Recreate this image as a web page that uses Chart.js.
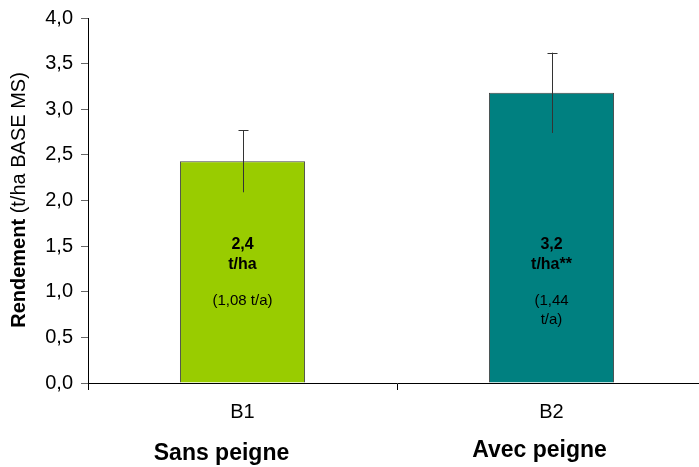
<!DOCTYPE html>
<html>
<head>
<meta charset="utf-8">
<script src="https://cdn.jsdelivr.net/npm/chart.js@4.4.1/dist/chart.umd.min.js"></script>
<style>
  html, body { margin: 0; padding: 0; background: #fff; overflow: hidden; }
  #wrap { width: 699px; height: 467px; overflow: hidden; position: relative; }
  #box { width: 706px; height: 467px; position: absolute; left: 0; top: 0; }
</style>
</head>
<body>
<div id="wrap"><div id="box"><canvas id="c"></canvas></div></div>
<script>
// Yield per treatment (t/ha dry matter) with standard deviation
const categories = ['B1', 'B2'];
const groupNames = ['Sans peigne', 'Avec peigne'];
const yieldValues = [2.43, 3.18];
const yieldErrors = [0.34, 0.44];
const unitSuffix = ['t/ha', 't/ha**'];
const perAcreLines = [['(1,08 t/a)'], ['(1,44', 't/a)']];
const barColors = ['#99CC00', '#008080'];
const yTicks = [0, 0.5, 1, 1.5, 2, 2.5, 3, 3.5, 4];

const FONT = '"Liberation Sans", Arial, sans-serif';
const fmt = v => v.toFixed(1).replace('.', ',');

// Error bars: line through the bar top with a cap on the upper end
const errorBars = {
  id: 'errorBars',
  afterDatasetsDraw(chart) {
    const { ctx, scales: { y } } = chart;
    const meta = chart.getDatasetMeta(0);
    ctx.save();
    ctx.strokeStyle = '#333';
    ctx.lineWidth = 1;
    meta.data.forEach((bar, i) => {
      const x = Math.round(bar.x) + 0.5;
      const top = y.getPixelForValue(yieldValues[i] + yieldErrors[i]);
      const bot = y.getPixelForValue(yieldValues[i] - yieldErrors[i]);
      ctx.beginPath();
      ctx.moveTo(x, bot);
      ctx.lineTo(x, top);
      ctx.moveTo(x - 5, Math.round(top) + 0.5);
      ctx.lineTo(x + 5, Math.round(top) + 0.5);
      ctx.stroke();
    });
    ctx.restore();
  }
};

// Text inside the bars, group names under the axis, and the y-axis title
const annotations = {
  id: 'annotations',
  afterDraw(chart) {
    const { ctx, scales: { x, y } } = chart;
    const meta = chart.getDatasetMeta(0);
    ctx.save();
    ctx.fillStyle = '#000';
    ctx.textAlign = 'center';
    ctx.textBaseline = 'middle';
    meta.data.forEach((bar, i) => {
      const cx = bar.x;
      const y0 = y.getPixelForValue(1.52);
      ctx.font = 'bold 16px ' + FONT;
      ctx.fillText(fmt(yieldValues[i]), cx, y0);
      ctx.fillText(unitSuffix[i], cx, y0 + 20);
      ctx.font = '15px ' + FONT;
      perAcreLines[i].forEach((t, k) => ctx.fillText(t, cx, y0 + 57 + k * 19));
    });
    ctx.font = 'bold 23px ' + FONT;
    const gy = [454, 451];
    groupNames.forEach((g, i) => {
      ctx.fillText(g, x.getPixelForValue(i) - 21 + i * 9, gy[i]);
    });
    // y title: bold word followed by regular unit text
    const t1 = 'Rendement';
    const t2 = ' (t/ha BASE MS)';
    ctx.font = 'bold 20px ' + FONT;
    const w1 = ctx.measureText(t1).width;
    ctx.font = '20px ' + FONT;
    const w2 = ctx.measureText(t2).width;
    ctx.translate(19, 200);
    ctx.rotate(-Math.PI / 2);
    ctx.textAlign = 'left';
    const start = -(w1 + w2) / 2;
    ctx.font = 'bold 20px ' + FONT;
    ctx.fillText(t1, start, 0);
    ctx.font = '20px ' + FONT;
    ctx.fillText(t2, start + w1, 0);
    ctx.restore();
  }
};

new Chart(document.getElementById('c'), {
  type: 'bar',
  data: {
    labels: categories,
    datasets: [{
      data: yieldValues,
      backgroundColor: barColors,
      borderColor: '#444',
      borderWidth: 1,
      categoryPercentage: 1,
      barPercentage: 0.405
    }]
  },
  options: {
    responsive: true,
    maintainAspectRatio: false,
    animation: false,
    devicePixelRatio: 1,
    layout: { padding: { top: 18, right: 0, bottom: 0, left: 0 } },
    plugins: { legend: { display: false }, tooltip: { enabled: false } },
    scales: {
      x: {
        grid: { display: true, offset: true, drawOnChartArea: false, tickLength: 7, color: '#000', tickColor: '#000' },
        border: { color: '#000', width: 1 },
        ticks: { color: '#000', font: { family: FONT, size: 20 }, padding: 10 },
        afterFit(s) { s.height = 84; }
      },
      y: {
        min: 0, max: 4,
        afterBuildTicks(s) { s.ticks = yTicks.map(v => ({ value: v })); },
        grid: { display: true, drawOnChartArea: false, tickLength: 7, color: '#000', tickColor: '#666' },
        border: { color: '#000', width: 1 },
        ticks: { color: '#000', font: { family: FONT, size: 20 }, padding: 8, callback: v => fmt(v) },
        afterFit(s) { s.width = 88; s.paddingTop = 0; s.paddingBottom = 0; }
      }
    }
  },
  plugins: [errorBars, annotations]
});
</script>
</body>
</html>
